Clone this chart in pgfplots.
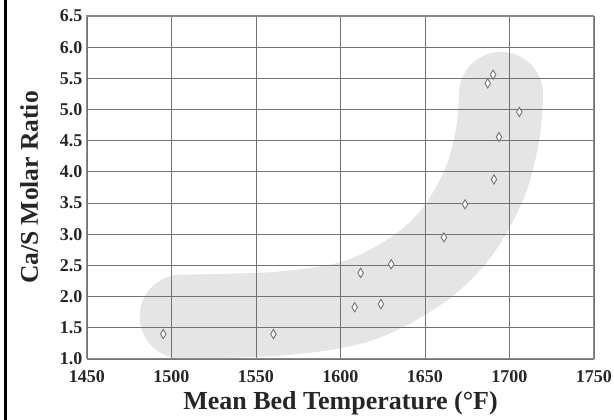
\documentclass[border=0pt]{standalone}
\usepackage{pgfplots}
\pgfplotsset{compat=1.18}
\usepackage{fontspec}
\setmainfont{Liberation Serif}
\begin{document}
\begin{tikzpicture}
\begin{axis}[
  set layers,
  at={(0pt,0pt)}, anchor=south west,
  width=507pt, height=343pt, scale only axis,
  xmin=1450, xmax=1750, ymin=1, ymax=6.5,
  xtick={1450,1500,1550,1600,1650,1700,1750},
  ytick={1,1.5,2,2.5,3,3.5,4,4.5,5,5.5,6,6.5},
  grid=major,
  grid style={draw=black!55, line width=0.9pt},
  axis line style={draw=black!45, line width=1pt},
  tick style={draw=none},
  /pgf/number format/assume math mode=true,
  ticklabel style={font=\bfseries\fontsize{18}{18}\selectfont, text=black!85},
  x tick label style={/pgf/number format/.cd, set thousands separator={}, /tikz/.cd, yshift=-8pt},
  y tick label style={/pgf/number format/.cd, fixed, fixed zerofill, precision=1, /tikz/.cd, xshift=-1pt},
  xlabel={Mean Bed Temperature (°F)},
  ylabel={Ca/S Molar Ratio},
  xlabel style={font=\bfseries\fontsize{26}{26}\selectfont, text=black!85, at={(axis description cs:0.5,-0.13)}, anchor=center},
  ylabel style={font=\bfseries\fontsize{25.5}{25.5}\selectfont, text=black!85, at={(axis description cs:-0.114,0.5)}, anchor=center},
]
% shaded trend band
\addplot[on layer=axis background, draw=black!10, line width=84pt, line cap=round, smooth, tension=0.55, forget plot]
  coordinates {(1506,1.68) (1565,1.73) (1610,1.93) (1645,2.42) (1668,3.0) (1685,3.8) (1693,4.6) (1695,5.25)};
\addplot[only marks, mark=diamond*, mark size=4.6pt, mark options={draw=black!55, fill=white, line width=0.9pt, xscale=0.8}]
  coordinates {
  (1495.1,1.40) (1560.3,1.40) (1608.4,1.83) (1611.9,2.38) (1623.9,1.88)
  (1630.0,2.52) (1661.2,2.95) (1673.7,3.48) (1690.8,3.88) (1693.8,4.56)
  (1705.8,4.96) (1687.1,5.42) (1690.3,5.56)
  };
\end{axis}
\draw[line width=3.3pt, black] (-81.3pt,-61pt) -- (-81.3pt,359pt);
\pgfresetboundingbox
\path[use as bounding box] (-87pt,-61pt) rectangle (527pt,359pt);
\end{tikzpicture}
\end{document}
